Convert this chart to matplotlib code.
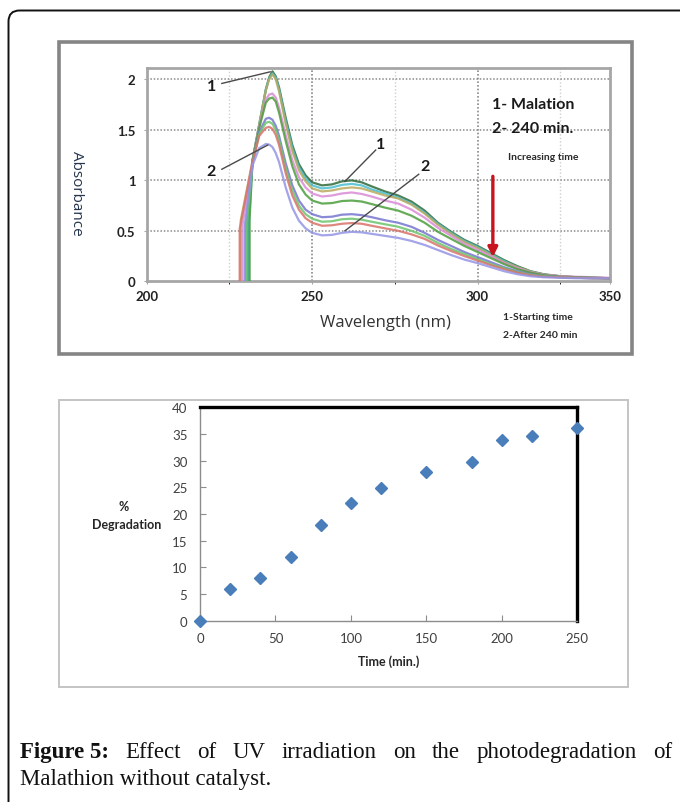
import matplotlib
matplotlib.use('Agg')
import matplotlib.pyplot as plt
from matplotlib.patches import FancyBboxPatch, Rectangle

W, H = 680, 803

# ---------------- data: UV spectra (top panel) ----------------
wavelength = [232, 234, 236, 237, 238, 239, 240, 242, 244, 246, 248, 250, 253, 256, 259,
              262, 265, 268, 272, 276, 280, 284, 288, 292, 296, 300, 304, 308, 312, 316,
              320, 325, 330, 335, 340]
spec_1 = [1.20, 1.55, 1.90, 2.02, 2.08, 2.03, 1.92, 1.62, 1.35, 1.16, 1.05, 0.98, 0.95, 0.96, 0.99,
          1.00, 0.98, 0.94, 0.89, 0.85, 0.79, 0.70, 0.58, 0.49, 0.41, 0.35, 0.28, 0.21, 0.15, 0.10,
          0.07, 0.05, 0.04, 0.035, 0.03]
spec_2 = [1.20, 1.55, 1.90, 2.01, 2.06, 2.02, 1.90, 1.59, 1.32, 1.13, 1.02, 0.95, 0.92, 0.93, 0.955,
          0.965, 0.95, 0.91, 0.87, 0.83, 0.77, 0.68, 0.57, 0.48, 0.40, 0.34, 0.27, 0.20, 0.14, 0.095,
          0.065, 0.05, 0.04, 0.035, 0.03]
spec_3 = [1.20, 1.55, 1.89, 2.00, 2.05, 2.00, 1.88, 1.56, 1.29, 1.10, 0.99, 0.92, 0.89, 0.90, 0.92,
          0.93, 0.92, 0.89, 0.85, 0.82, 0.76, 0.67, 0.56, 0.47, 0.39, 0.33, 0.26, 0.19, 0.14, 0.095,
          0.065, 0.05, 0.04, 0.035, 0.03]
spec_4 = [1.20, 1.53, 1.80, 1.85, 1.86, 1.82, 1.72, 1.45, 1.20, 1.03, 0.93, 0.87, 0.84, 0.85, 0.87,
          0.88, 0.865, 0.84, 0.80, 0.77, 0.71, 0.63, 0.53, 0.45, 0.37, 0.31, 0.25, 0.18, 0.13, 0.09,
          0.065, 0.05, 0.045, 0.04, 0.035]
spec_5 = [1.20, 1.52, 1.77, 1.81, 1.82, 1.78, 1.67, 1.39, 1.14, 0.96, 0.86, 0.80, 0.77, 0.775, 0.795,
          0.80, 0.79, 0.765, 0.73, 0.70, 0.65, 0.58, 0.49, 0.42, 0.35, 0.29, 0.23, 0.17, 0.12, 0.085,
          0.06, 0.045, 0.04, 0.035, 0.03]
spec_6 = [1.18, 1.48, 1.61, 1.62, 1.60, 1.54, 1.44, 1.17, 0.95, 0.80, 0.71, 0.665, 0.635, 0.64, 0.66,
          0.665, 0.655, 0.635, 0.605, 0.58, 0.54, 0.48, 0.41, 0.35, 0.29, 0.24, 0.19, 0.14, 0.10, 0.07,
          0.05, 0.04, 0.035, 0.03, 0.03]
spec_7 = [1.18, 1.46, 1.57, 1.58, 1.56, 1.50, 1.40, 1.12, 0.90, 0.75, 0.665, 0.62, 0.59, 0.595, 0.615,
          0.62, 0.61, 0.59, 0.565, 0.54, 0.50, 0.45, 0.38, 0.32, 0.27, 0.22, 0.17, 0.13, 0.09, 0.065,
          0.05, 0.04, 0.035, 0.03, 0.03]
spec_8 = [1.18, 1.44, 1.52, 1.53, 1.51, 1.45, 1.35, 1.07, 0.85, 0.71, 0.625, 0.58, 0.55, 0.555, 0.57,
          0.577, 0.57, 0.55, 0.525, 0.50, 0.465, 0.42, 0.355, 0.30, 0.25, 0.205, 0.16, 0.12, 0.085, 0.06,
          0.045, 0.04, 0.035, 0.03, 0.03]
spec_9 = [1.15, 1.32, 1.36, 1.355, 1.33, 1.27, 1.18, 0.93, 0.73, 0.60, 0.525, 0.48, 0.455, 0.46, 0.48,
          0.49, 0.485, 0.47, 0.45, 0.43, 0.40, 0.36, 0.31, 0.26, 0.215, 0.18, 0.14, 0.10, 0.07, 0.05,
          0.04, 0.035, 0.03, 0.03, 0.03]
spectra = [spec_1, spec_2, spec_3, spec_4, spec_5, spec_6, spec_7, spec_8, spec_9]
# steep onset of each spectrum (wavelength where it leaves 0, and shoulder height)
onset_nm = [230.6, 230.9, 228.4, 228.9, 231.1, 229.9, 230.3, 228.1, 229.6]
onset_abs = [0.60, 0.58, 0.60, 0.55, 0.62, 0.55, 0.58, 0.52, 0.55]
spec_colors = ['#2E6A3A', '#48BECF', '#B9A95E', '#D98BD6', '#4C9E3C',
               '#7676CF', '#6CC46C', '#D8726A', '#9494E6']

wl_ticks = [200, 250, 300, 340]
wl_ticklabels = ['200', '250', '300', '350']
abs_ticks = [0, 0.5, 1, 1.5, 2]
abs_ticklabels = ['0', '0.5', '1', '1.5', '2']

# ---------------- data: degradation (bottom panel) ----------------
time_min = [0, 20, 40, 60, 80, 100, 120, 150, 180, 200, 220, 250]
degradation = [0, 5.9, 8.0, 12.0, 17.9, 22.0, 24.8, 27.8, 29.8, 33.8, 34.7, 36.2]
time_ticks = [0, 50, 100, 150, 200, 250]
deg_ticks = [0, 5, 10, 15, 20, 25, 30, 35, 40]


def fx(x):
    return x / W


def fy(y):
    return 1 - y / H


fig = plt.figure(figsize=(W / 100, H / 100), dpi=100)
fig.patch.set_facecolor('white')

# background overlay for frames and caption (pixel coordinates)
bg = fig.add_axes([0, 0, 1, 1], zorder=0)
bg.set_xlim(0, W)
bg.set_ylim(H, 0)
bg.axis('off')
bg.add_patch(FancyBboxPatch((8.5, 11.5), 720, 840, boxstyle='round,pad=0,rounding_size=11',
                            fc='none', ec='#111111', lw=1.4))
bg.add_patch(Rectangle((58.5, 43), 573.5, 312, fc='white', ec='#858585', lw=2.6))
bg.add_patch(Rectangle((58.5, 400.5), 569.5, 287.5, fc='white', ec='#C4C4C4', lw=1.4))

# ---------------- top panel ----------------
x0, x1, yt, yb = 146.7, 610.0, 69.3, 282.3
ax1 = fig.add_axes([fx(x0), fy(yb), fx(x1 - x0), (yb - yt) / H], zorder=2)
ax1.set_facecolor('white')
ax1.set_xlim(200, 340)
ax1.set_ylim(0, 2.11)
for x in [225, 275, 325]:
    ax1.axvline(x, color='#CFCFCF', lw=1.0, ls=(0, (1, 1.5)), zorder=1)
for x in [250, 300]:
    ax1.axvline(x, color='#8A8A8A', lw=1.2, ls=(0, (1, 1.2)), zorder=1)
for y in [0.5, 1, 1.5, 2]:
    ax1.axhline(y, color='#8A8A8A', lw=1.1, ls=(0, (1, 1.2)), zorder=1)
for s, c, on, oa in zip(spectra, spec_colors, onset_nm, onset_abs):
    ax1.plot([on, on] + wavelength, [0, oa] + s, color=c, lw=1.6, alpha=0.85, zorder=3)
for sp in ax1.spines.values():
    sp.set_color('#A6A6A6')
    sp.set_linewidth(2.0)
ax1.set_xticks(wl_ticks)
ax1.set_xticklabels(wl_ticklabels)
ax1.set_yticks(abs_ticks)
ax1.set_yticklabels(abs_ticklabels)
ax1.set_xticks([225, 275, 325], minor=True)
ax1.tick_params(axis='both', length=2, color='#A6A6A6', labelsize=9.5, labelcolor='#222222')
ax1.tick_params(axis='x', pad=4, which='both')
ax1.tick_params(axis='y', pad=6)
for lab in ax1.get_xticklabels() + ax1.get_yticklabels():
    lab.set_fontweight('bold')
    lab.set_family('Lato')

# annotation leader lines
lead = dict(color='#4A4A4A', lw=1.0)
ax1.plot([222.7, 237.3], [1.96, 2.075], **lead, zorder=4)
ax1.plot([222.7, 236.6], [1.11, 1.35], **lead, zorder=4)
ax1.plot([269.2, 259.9], [1.30, 0.99], **lead, zorder=4)
ax1.plot([282.2, 259.9], [1.06, 0.50], **lead, zorder=4)
numkw = dict(fontsize=11.5, fontweight='bold', color='#1A1A1A', family='Lato', ha='center', va='center')
ax1.text(219.6, 1.93, '1', **numkw)
ax1.text(219.4, 1.09, '2', **numkw)
ax1.text(270.6, 1.36, '1', **numkw)
ax1.text(284.2, 1.14, '2', **numkw)
# red arrow
ax1.annotate('', xy=(304.6, 0.24), xytext=(304.6, 1.04),
             arrowprops=dict(arrowstyle='-|>', color='#C8141E', lw=2.4, mutation_scale=14,
                             shrinkA=0, shrinkB=0), zorder=5)

fig.text(fx(492), fy(105), '1- Malation', fontsize=11.5, fontweight='bold', family='Lato',
         color='#1A1A1A', ha='left', va='center')
fig.text(fx(492), fy(129), '2- 240 min.', fontsize=11.5, fontweight='bold', family='Lato',
         color='#1A1A1A', ha='left', va='center')
fig.text(fx(543), fy(157), 'Increasing time', fontsize=7.5, fontweight='bold', family='Lato',
         color='#2A2A2A', ha='center', va='center')
fig.text(fx(503), fy(318), '1-Starting time', fontsize=7.5, fontweight='bold', family='Lato',
         color='#2A2A2A', ha='left', va='center')
fig.text(fx(503), fy(336), '2-After 240 min', fontsize=7.5, fontweight='bold', family='Lato',
         color='#2A2A2A', ha='left', va='center')
fig.text(fx(76), fy(193), 'Absorbance', fontsize=11, family='Open Sans', color='#25364F',
         rotation=270, ha='center', va='center')
fig.text(fx(385), fy(323), 'Wavelength (nm)', fontsize=12, family='Open Sans', color='#333333',
         ha='center', va='center')

# ---------------- bottom panel ----------------
bx0, bx1, byt, byb = 200.0, 577.3, 408.3, 621.7
ax2 = fig.add_axes([fx(bx0), fy(byb), fx(bx1 - bx0), (byb - byt) / H], zorder=2)
ax2.set_facecolor('white')
ax2.set_xlim(0, 250)
ax2.set_ylim(0, 40)
ax2.plot(time_min, degradation, ls='none', marker='D', ms=6.5, color='#4A7EBB', clip_on=False, zorder=5)
ax2.spines['left'].set_color('#8C8C8C')
ax2.spines['bottom'].set_color('#8C8C8C')
ax2.spines['left'].set_linewidth(1.0)
ax2.spines['bottom'].set_linewidth(1.0)
ax2.spines['top'].set_color('black')
ax2.spines['right'].set_color('black')
ax2.spines['top'].set_linewidth(2.4)
ax2.spines['right'].set_linewidth(2.4)
ax2.set_xticks(time_ticks)
ax2.set_yticks(deg_ticks)
ax2.tick_params(direction='in', length=4, color='#8C8C8C', labelsize=9.5, labelcolor='#404040',
                top=False, right=False)
ax2.tick_params(axis='x', pad=8)
ax2.tick_params(axis='y', pad=9)
for lab in ax2.get_xticklabels() + ax2.get_yticklabels():
    lab.set_family('Lato')
fig.text(fx(124), fy(507), '%', fontsize=9, fontweight='bold', family='Lato', color='#262626',
         ha='center', va='center')
fig.text(fx(127), fy(525), 'Degradation', fontsize=9, fontweight='bold', family='Lato',
         color='#262626', ha='center', va='center')
fig.text(fx(389), fy(662), 'Time (min.)', fontsize=9, fontweight='bold', family='Lato',
         color='#262626', ha='center', va='center')

# ---------------- caption (justified first line) ----------------
renderer = fig.canvas.get_renderer()
cap_kw = dict(fontsize=16.5, family='Liberation Serif', color='#111111', va='baseline')
line1 = ['Effect', 'of', 'UV', 'irradiation', 'on', 'the', 'photodegradation', 'of']
first = fig.text(0, 0, 'Figure 5:', fontweight='bold', **cap_kw)
words = [first] + [fig.text(0, 0, w, **cap_kw) for w in line1]
widths = [t.get_window_extent(renderer).width for t in words]
left_px, right_px = 20, 672
gap = (right_px - left_px - sum(widths)) / (len(words) - 1)
xpos = left_px
for t, wdt in zip(words, widths):
    t.set_position((fx(xpos), fy(758)))
    xpos += wdt + gap
fig.text(fx(20), fy(785), 'Malathion without catalyst.', **cap_kw)

fig.savefig('out.png', dpi=100)
